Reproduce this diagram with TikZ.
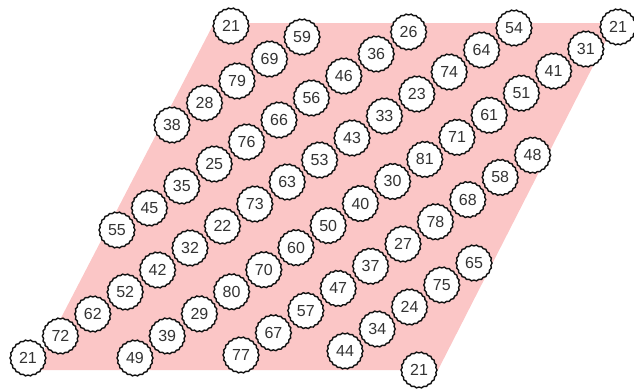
\documentclass[tikz,border=0pt]{standalone}
\usepackage{fontspec}
\setmainfont{Liberation Sans}
\usepackage{xcolor}
\usetikzlibrary{shapes.geometric}
\definecolor{torusfill}{HTML}{FBC6C6}
\definecolor{numline}{HTML}{111111}

\begin{document}
\begin{tikzpicture}[x=1pt, y=-1pt, font=\fontsize{16}{16}\selectfont,
 numnode/.style={star, star points=22, star point ratio=0.94, draw=numline, line width=1.4pt,
   fill=white, minimum size=34pt, inner sep=0pt, text=black!80}]
\useasboundingbox (0,0) rectangle (634,389);
\fill[torusfill] (34,370) -- (438,370) -- (615,23) -- (214,23) -- cycle;

\foreach \r/\sx/\sy/\dx/\dy/\vals in {
  a/172/125/32.5/-22/{38,28,79,69,59},
  b/117/230/32.4/-22/{55,45,35,25,76,66,56,46,36,26},
  c/28/358/32.4/-22/{21,72,62,52,42,32,22,73,63,53,43,33,23,74,64,54},
  d/135/358/32.2/-22.07/{49,39,29,80,70,60,50,40,30,81,71,61,51,41,31,21},
  e/241/355/32.4/-22.2/{77,67,57,47,37,27,78,68,58,48},
  f/345/351/32.25/-22/{44,34,24,75,65}}
  {\foreach \v [count=\i from 0] in \vals
    {\node[numnode] (\r\i) at ({\sx+\i*\dx},{\sy+\i*\dy}) {\v};}}

\node[numnode] (topcorner) at (231,26) {21};
\node[numnode] (botcorner) at (419,370) {21};

\end{tikzpicture}
\end{document}
